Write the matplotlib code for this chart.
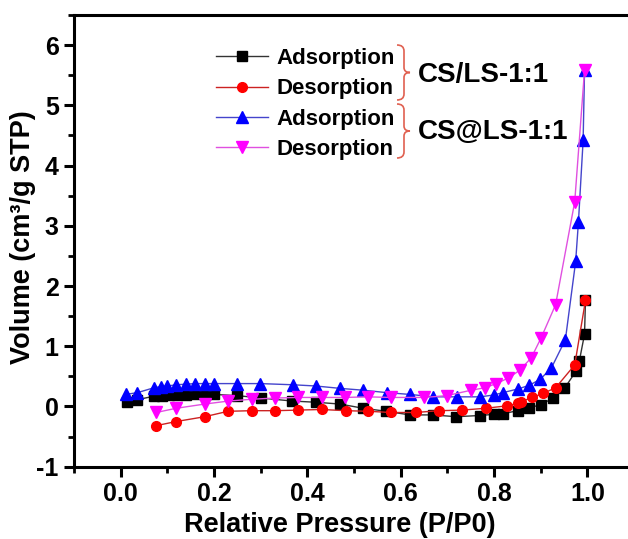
import matplotlib
matplotlib.use('Agg')
import matplotlib.pyplot as plt
from matplotlib.path import Path
from matplotlib.patches import PathPatch
from matplotlib.transforms import IdentityTransform
from matplotlib.ticker import MultipleLocator

plt.rcParams['font.family'] = ['Liberation Sans', 'DejaVu Sans']
plt.rcParams['font.weight'] = 'bold'
plt.rcParams['axes.unicode_minus'] = False

# CS/LS-1:1 adsorption
p_ads1 = [0.013, 0.034, 0.071, 0.089, 0.104, 0.121, 0.140, 0.162, 0.183, 0.200, 0.250, 0.301,
          0.368, 0.419, 0.470, 0.520, 0.569, 0.620, 0.669, 0.719, 0.769, 0.801, 0.819, 0.851,
          0.876, 0.901, 0.926, 0.951, 0.976, 0.983, 0.994, 0.996]
v_ads1 = [0.08, 0.11, 0.17, 0.18, 0.19, 0.19, 0.19, 0.20, 0.20, 0.20, 0.18, 0.14,
          0.09, 0.07, 0.04, -0.03, -0.08, -0.14, -0.14, -0.17, -0.15, -0.13, -0.12, -0.07,
          -0.02, 0.03, 0.14, 0.30, 0.59, 0.76, 1.20, 1.76]

# CS/LS-1:1 desorption
p_des1 = [0.075, 0.119, 0.180, 0.230, 0.281, 0.331, 0.381, 0.431, 0.482, 0.531, 0.579, 0.632,
          0.682, 0.732, 0.782, 0.827, 0.851, 0.858, 0.882, 0.906, 0.932, 0.973, 0.996]
v_des1 = [-0.32, -0.25, -0.17, -0.08, -0.07, -0.07, -0.06, -0.05, -0.07, -0.08, -0.10, -0.10,
          -0.07, -0.06, -0.03, 0.01, 0.05, 0.08, 0.15, 0.22, 0.31, 0.69, 1.76]

# CS@LS-1:1 adsorption
p_ads2 = [0.011, 0.036, 0.071, 0.086, 0.100, 0.119, 0.139, 0.159, 0.180, 0.200, 0.250, 0.299,
          0.370, 0.418, 0.471, 0.520, 0.570, 0.620, 0.670, 0.720, 0.770, 0.799, 0.819, 0.851,
          0.875, 0.899, 0.923, 0.953, 0.975, 0.981, 0.991, 0.994]
v_ads2 = [0.20, 0.23, 0.31, 0.33, 0.34, 0.36, 0.37, 0.38, 0.38, 0.38, 0.38, 0.38,
          0.36, 0.34, 0.30, 0.27, 0.23, 0.20, 0.16, 0.16, 0.16, 0.19, 0.23, 0.29,
          0.35, 0.45, 0.64, 1.11, 2.41, 3.07, 4.42, 5.58]

# CS@LS-1:1 desorption
p_des2 = [0.076, 0.119, 0.180, 0.231, 0.281, 0.331, 0.381, 0.431, 0.480, 0.529, 0.579, 0.651,
          0.699, 0.751, 0.780, 0.805, 0.830, 0.855, 0.880, 0.901, 0.932, 0.973, 0.994]
v_des2 = [-0.10, -0.03, 0.04, 0.09, 0.12, 0.14, 0.15, 0.15, 0.15, 0.16, 0.15, 0.15,
          0.18, 0.27, 0.31, 0.38, 0.47, 0.60, 0.81, 1.14, 1.69, 3.40, 5.58]

W, H = 628, 539
fig = plt.figure(figsize=(W / 100, H / 100), dpi=100)
ax = fig.add_axes([74 / W, (H - 466.7) / H, 560 / W, 451.7 / H])

l1, = ax.plot(p_ads1, v_ads1, color='#333333', lw=1, marker='s', ms=6.5,
              mfc='black', mec='black', label='Adsorption')
l2, = ax.plot(p_des1, v_des1, color='#cc2222', lw=1, marker='o', ms=7,
              mfc='red', mec='red', label='Desorption')
l3, = ax.plot(p_ads2, v_ads2, color='#4444cc', lw=1, marker='^', ms=8,
              mfc='blue', mec='blue', label='Adsorption')
l4, = ax.plot(p_des2, v_des2, color='#e050e0', lw=1, marker='v', ms=8,
              mfc='magenta', mec='magenta', label='Desorption')

ax.set_xlim(-0.1, 1.1)
ax.set_ylim(-1, 6.5)
ax.xaxis.set_minor_locator(MultipleLocator(0.1))
ax.yaxis.set_major_locator(MultipleLocator(1))
ax.yaxis.set_minor_locator(MultipleLocator(0.5))
ax.set_xticks([0.0, 0.2, 0.4, 0.6, 0.8, 1.0])
ax.tick_params(which='major', direction='out', length=7, width=2.2, labelsize=18, pad=4)
ax.tick_params(which='minor', direction='out', length=4, width=2)
for s in ax.spines.values():
    s.set_linewidth(2.2)

ax.set_xlabel('Relative Pressure (P/P0)', fontsize=19.5, fontweight='bold')
ax.set_ylabel('Volume (cm³/g STP)', fontsize=19.5, fontweight='bold')
ax.xaxis.set_label_coords(0.475, -0.13)
ax.yaxis.set_label_coords(-0.091, 0.508)
ax.yaxis.label.set_va('center')
ax.xaxis.label.set_va('center')

leg = ax.legend(handles=[l1, l2, l3, l4], loc='upper left',
                bbox_to_anchor=(216 / W, 1 - 48 / H), bbox_transform=fig.transFigure,
                frameon=False, fontsize=16, handlelength=2.35, handletextpad=0.36,
                labelspacing=0.42, borderpad=0, borderaxespad=0)
for t in leg.get_texts():
    t.set_fontweight('bold')


def brace(x0, ytop, ybot, color='#e06050'):
    ym = (ytop + ybot) / 2
    xr = x0 + 7
    pts = [(x0, ytop), (xr, ytop), (xr, ytop + 6), (xr, ym - 5), (xr, ym), (xr + 6, ym),
           (xr, ym), (xr, ym + 5), (xr, ybot - 6), (xr, ybot), (x0, ybot)]
    codes = [Path.MOVETO, Path.CURVE3, Path.CURVE3, Path.LINETO, Path.CURVE3, Path.CURVE3,
             Path.CURVE3, Path.CURVE3, Path.LINETO, Path.CURVE3, Path.CURVE3]
    pts = [(x, H - y) for x, y in pts]
    fig.patches.append(PathPatch(Path(pts, codes), fill=False, ec=color, lw=1.2,
                                 transform=IdentityTransform()))


brace(397, 45, 100)
brace(397, 104, 158)
fig.text(418 / W, 1 - 75 / H, 'CS/LS-1:1', fontsize=20, fontweight='bold', va='center')
fig.text(418 / W, 1 - 132 / H, 'CS@LS-1:1', fontsize=20, fontweight='bold', va='center')

fig.savefig('out.png', dpi=100)
